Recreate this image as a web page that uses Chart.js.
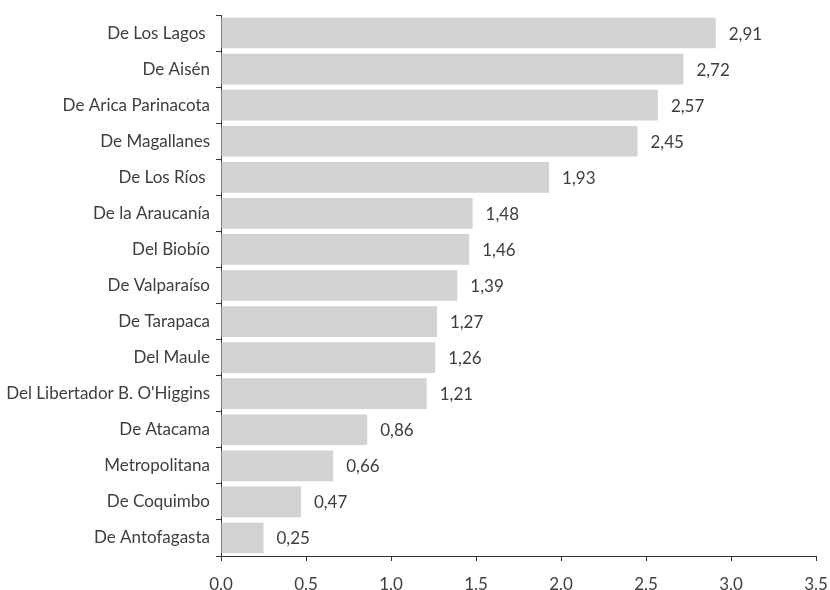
<!DOCTYPE html>
<html>
<head>
<meta charset="utf-8">
<script src="https://cdn.jsdelivr.net/npm/chart.js@4/dist/chart.umd.min.js"></script>
<style>
  html, body { margin: 0; padding: 0; background: #fff; }
  #wrap { width: 830px; height: 590px; position: relative; }
</style>
</head>
<body>
<div id="wrap"><canvas id="chart"></canvas></div>
<script>
// regions, sorted as in the source chart
var regions = [
  'De Los Lagos ', 'De Aisén', 'De Arica Parinacota', 'De Magallanes', 'De Los Ríos ',
  'De la Araucanía', 'Del Biobío', 'De Valparaíso', 'De Tarapaca', 'Del Maule',
  "Del Libertador B. O'Higgins", 'De Atacama', 'Metropolitana', 'De Coquimbo', 'De Antofagasta'
];
var values = [2.91, 2.72, 2.57, 2.45, 1.93, 1.48, 1.46, 1.39, 1.27, 1.26, 1.21, 0.86, 0.66, 0.47, 0.25];
var xTicks = [0, 0.5, 1, 1.5, 2, 2.5, 3, 3.5];

var FONT = 'Lato, "Open Sans", sans-serif';
var TEXT = '#3e3e3e';

// writes the value next to each bar, with a decimal comma
var valueLabels = {
  id: 'valueLabels',
  afterDatasetsDraw: function (chart) {
    var ctx = chart.ctx;
    var meta = chart.getDatasetMeta(0);
    ctx.save();
    ctx.font = '17px ' + FONT;
    ctx.fillStyle = TEXT;
    ctx.textAlign = 'left';
    ctx.textBaseline = 'middle';
    meta.data.forEach(function (bar, i) {
      ctx.fillText(values[i].toFixed(2).replace('.', ','), bar.x + 13, bar.y + 1);
    });
    ctx.restore();
  }
};

new Chart(document.getElementById('chart'), {
  type: 'bar',
  data: {
    labels: regions,
    datasets: [{
      data: values,
      backgroundColor: '#d2d2d4',
      borderWidth: 0,
      barPercentage: 0.85,
      categoryPercentage: 1
    }]
  },
  options: {
    indexAxis: 'y',
    responsive: true,
    maintainAspectRatio: false,
    animation: false,
    layout: { padding: { top: 15, right: 0, left: 0, bottom: 0 } },
    plugins: { legend: { display: false }, tooltip: { enabled: false } },
    scales: {
      x: {
        min: 0,
        max: 3.5,
        afterBuildTicks: function (scale) {
          scale.ticks = xTicks.map(function (v) { return { value: v }; });
        },
        afterFit: function (scale) {
          scale.height = 34;
          scale.paddingLeft = 0;
          scale.paddingRight = 14;
        },
        grid: { drawOnChartArea: false, drawTicks: true, tickLength: 5, color: '#333' },
        border: { display: true, color: '#333', width: 1 },
        ticks: {
          color: TEXT,
          padding: 13,
          maxRotation: 0,
          font: { family: FONT, size: 17 },
          callback: function (v) { return Number(v).toFixed(1); }
        }
      },
      y: {
        afterFit: function (scale) {
          scale.width = 221;
          scale.paddingTop = 0;
          scale.paddingBottom = 0;
        },
        grid: { drawOnChartArea: false, drawTicks: true, tickLength: 5, color: '#333', offset: true },
        border: { display: true, color: '#333', width: 1 },
        ticks: {
          color: TEXT,
          padding: 6,
          font: { family: FONT, size: 17 }
        }
      }
    }
  },
  plugins: [valueLabels]
});
</script>
</body>
</html>
